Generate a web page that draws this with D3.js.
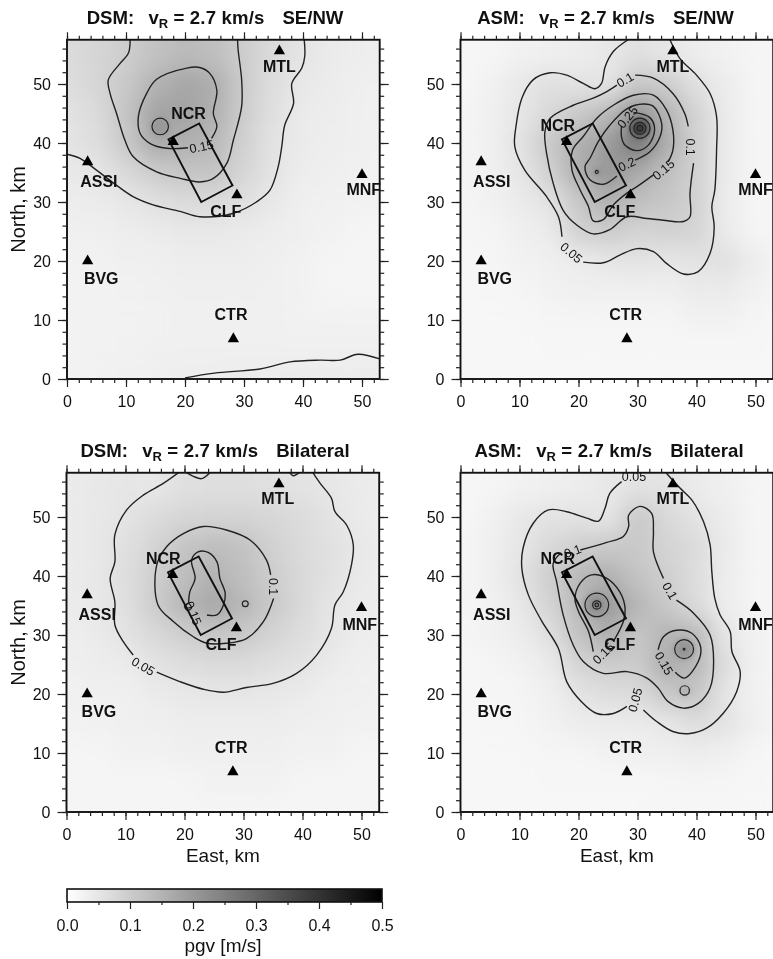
<!DOCTYPE html>
<html>
<head>
<meta charset="utf-8">
<script src="https://cdn.jsdelivr.net/npm/d3@7/dist/d3.min.js"></script>
<style>
html,body{margin:0;padding:0;background:#fff;overflow:hidden}
svg{display:block;filter:blur(0.6px)}
text{font-family:"Liberation Sans",Arial,sans-serif;fill:#111}
</style>
</head>
<body>
<svg id="chart" width="773" height="959"></svg>
<script>
// ---------- data (km east, km north, pgv in m/s) ----------
const gridEast = [0,5,10,15,20,25,30,35,40,45,50,55];
const gridNorth = [55,50,45,40,35,30,25,20,15,10,5,0];

const dsmSeNwGrid = [
 [.07,.08,.098,.12,.135,.125,.098,.07,.051,.04,.035,.03],
 [.065,.08,.105,.15,.175,.16,.1,.065,.045,.037,.03,.03],
 [.055,.07,.115,.18,.18,.155,.098,.06,.04,.035,.03,.03],
 [.052,.065,.105,.17,.155,.14,.09,.055,.04,.033,.03,.028],
 [.043,.05,.075,.10,.115,.115,.08,.052,.035,.03,.028,.025],
 [.035,.04,.048,.06,.07,.07,.06,.045,.03,.028,.025,.025],
 [.03,.03,.035,.04,.045,.045,.04,.035,.03,.025,.02,.02],
 [.025,.025,.03,.03,.035,.035,.035,.03,.025,.02,.02,.02],
 [.025,.025,.025,.03,.03,.03,.03,.03,.025,.02,.02,.02],
 [.025,.025,.025,.025,.03,.03,.03,.03,.025,.025,.025,.025],
 [.025,.025,.025,.03,.03,.03,.03,.03,.03,.03,.03,.03],
 [.025,.025,.03,.03,.035,.035,.04,.04,.04,.04,.04,.04]];

const asmSeNwGrid = [
 [.015,.02,.025,.03,.035,.045,.06,.05,.035,.025,.02,.02],
 [.015,.025,.045,.06,.055,.052,.11,.10,.06,.035,.02,.02],
 [.02,.03,.05,.075,.105,.14,.22,.15,.085,.04,.02,.02],
 [.02,.03,.055,.105,.155,.19,.28,.16,.09,.04,.02,.02],
 [.02,.03,.05,.09,.16,.21,.165,.125,.09,.04,.02,.02],
 [.02,.025,.04,.055,.11,.155,.125,.11,.09,.035,.02,.02],
 [.02,.02,.03,.04,.09,.10,.085,.09,.085,.04,.02,.02],
 [.015,.02,.025,.03,.04,.05,.055,.05,.055,.06,.035,.02],
 [.015,.015,.02,.025,.03,.03,.03,.03,.04,.04,.025,.02],
 [.015,.015,.015,.02,.02,.02,.02,.02,.025,.025,.02,.015],
 [.015,.015,.015,.015,.015,.015,.015,.015,.015,.015,.015,.015],
 [.015,.015,.015,.015,.015,.015,.015,.015,.015,.015,.015,.015]];

const dsmBilatGrid = [
 [.04,.045,.05,.048,.06,.062,.062,.058,.055,.048,.04,.035],
 [.04,.045,.052,.068,.08,.085,.085,.078,.068,.052,.04,.035],
 [.04,.045,.06,.085,.115,.13,.12,.09,.07,.058,.045,.035],
 [.04,.045,.065,.095,.13,.15,.125,.098,.075,.057,.042,.035],
 [.038,.045,.06,.1,.145,.175,.14,.105,.075,.05,.04,.035],
 [.033,.04,.055,.075,.095,.11,.105,.085,.065,.05,.035,.03],
 [.03,.035,.04,.055,.065,.07,.07,.06,.055,.04,.03,.03],
 [.025,.03,.03,.04,.045,.05,.05,.045,.04,.03,.03,.025],
 [.025,.025,.03,.03,.035,.035,.035,.035,.03,.03,.025,.025],
 [.02,.02,.025,.025,.03,.03,.03,.03,.025,.025,.02,.02],
 [.02,.02,.02,.02,.02,.025,.025,.025,.02,.02,.02,.02],
 [.02,.02,.02,.02,.02,.02,.02,.02,.02,.02,.02,.02]];

const asmBilatGrid = [
 [.015,.02,.025,.03,.035,.045,.055,.055,.04,.03,.02,.02],
 [.015,.025,.045,.055,.055,.05,.11,.075,.055,.035,.02,.02],
 [.02,.03,.05,.075,.095,.105,.105,.085,.07,.04,.02,.02],
 [.02,.03,.055,.095,.14,.155,.115,.095,.065,.035,.02,.02],
 [.02,.025,.045,.085,.14,.2,.145,.105,.07,.035,.02,.02],
 [.02,.025,.035,.06,.12,.16,.11,.15,.14,.05,.025,.02],
 [.015,.02,.025,.04,.085,.1,.1,.165,.14,.065,.025,.02],
 [.015,.02,.02,.03,.055,.065,.07,.11,.115,.05,.025,.02],
 [.015,.015,.02,.025,.035,.04,.04,.05,.065,.055,.03,.02],
 [.015,.015,.015,.02,.02,.025,.03,.03,.035,.03,.02,.015],
 [.015,.015,.015,.015,.015,.015,.015,.02,.02,.02,.015,.015],
 [.015,.015,.015,.015,.015,.015,.015,.015,.015,.015,.015,.015]];

const dsmSeNwContours = [
 [[40.2,57.6],[40.3,54.7],[39.8,52.7],[38.1,50.1],[38.4,46.7],[36.9,43],[36.4,39.4],[35.8,36],[34.4,32],[32.1,30],[28.2,28.1],[22.5,27.5],[19.2,28.4],[14.6,29.5],[11.2,30.9],[7.9,33.2],[5,35.4],[2.2,37.4],[0,38.1]],
 [[20,0.2],[25,1],[32.7,1.7],[37.8,2.9],[42.9,3.2],[46.3,3.2],[49.3,4.2],[53,3.4]],
 [[10.7,57.6],[10.4,55.2],[9,53.5],[7,50.7],[7.3,48.4],[8.4,45],[9.8,40.5],[11.2,37.7],[15.2,35.1],[19.2,34],[22.5,33.4],[24.8,34],[27.1,36.6],[28.2,40.5],[29.6,46.2],[29.6,50.7],[29,55.8],[28.9,57.6]],
 [[24.5,40.8],[25.4,42.8],[24.8,45],[25.4,48.9],[24.2,51.8],[22.5,52.8],[20.3,52.7],[15.2,50.8],[13.5,48.4],[12.1,44.5],[12.4,41.6],[14.1,39.9],[16.9,39.1],[20.5,39.2]]
];
const asmSeNwContours = [
 [[28.4,57.5],[25.9,55.5],[24.5,52.9],[23.9,50.1],[22.8,49.2],[20.8,50.1],[18,51.5],[15.2,51.9],[12.3,50.7],[10.4,47.6],[9.4,42.8],[9.2,39.4],[10.9,35.4],[14.6,30.9],[16.6,27.5],[17.2,24.1]],
 [[20.8,19.8],[24.2,19.7],[27,21],[29.9,22.1],[32.7,21.6],[34.9,19.6],[37.8,17.8],[40.3,18.2],[42.3,21.3],[43,25.8],[42.6,29.2],[43.1,32],[43.4,38.8],[43.4,44.5],[42.3,48.4],[40,51.5],[37.2,54.3],[35.5,57.5]],
 [[29.6,51.5],[32.7,51],[36,48.4],[38,45],[38.6,42.8]],
 [[39.5,36.6],[38.9,31.5],[38.9,27.5],[37.8,26.7],[34.4,26.9],[31.6,27.2],[28.2,27.5],[25.3,25.3],[22.5,24.6],[19.7,26.1],[17.4,28.6],[15.7,33.2],[14.6,38.2],[14.3,41.9],[15.2,44.2],[19.1,46.4],[22.5,47.6],[24.8,48.7],[26.5,49.8]],
 [[32.7,34.6],[29.9,32.6],[28.2,31.5],[25.9,29.5],[24.2,27],[22.5,26.8],[21.7,29.2],[20.3,32],[18.9,35.4],[19,38.8],[20.8,41.1],[23.1,44.2],[25.9,46.4],[29.3,48.1],[32.7,48.1],[34.9,45.6],[36,42.2],[36,38.8],[35.2,36.8]],
 [[29.6,37.1],[32.1,38.5],[33.8,41],[34.1,43.3],[32.7,46.2],[31,46.6],[28.2,45.8],[25.3,43],[23.4,40.3],[22,37.5],[21.1,36],[21.9,33.8],[24.2,33],[26.5,34.4]],
 [[29.3,45.2],[32.1,44.3],[32.9,42.2],[31.8,39.6],[29.9,38.7],[27.9,39.6],[27.3,41],[27.3,42.9]]
];
const dsmBilatContours = [
 [[19.1,57.6],[16.4,55.7],[13,53.7],[10.2,51.2],[8.2,47],[8.2,42.4],[7.4,39.6],[8.2,35.6],[8.2,31.7],[9.6,28.9],[11.3,26.6]],
 [[15.3,23.7],[19.2,22.1],[23.2,20.8],[26.6,20.3],[30.5,21.1],[35,21.8],[39,23.5],[42.4,26.6],[44.9,31.1],[45.5,35.1],[46.9,37.3],[48.3,41.9],[48.6,45.3],[47.5,48.6],[45.5,50.9],[44.9,53.2],[43,55.7],[41.7,57.6]],
 [[20.2,57.6],[21.5,56.9],[22.9,56.5],[24.3,57.5]],
 [[37.8,57.6],[38.4,57],[39.6,57.6]],
 [[34.6,40.2],[33.9,42.7],[31.1,46.1],[27.1,47.8],[23.2,48.4],[19.8,47.2],[17,45],[15.3,41.9],[15.5,35.1],[18.1,32.3],[21.5,29.7],[23.8,28.6],[27.1,28.6],[30.5,29.4],[33.4,32.3],[35.1,36.2]],
 [[23.8,33.4],[25.5,33.4],[26.6,35.1],[26.9,37.1],[26,39.6],[25.5,42.4],[24,44],[22.3,44.1],[21.2,42.7],[21.8,39.6],[20.9,37.3],[20.7,35.4]],
 [[20.7,35.4],[21.2,34.6],[20.5,34.2],[20,34.9],[20.7,35.4]]
];
const asmBilatContours = [
 [[27.3,56],[25.3,54],[24.5,51.5],[23.4,49.3],[21.4,49.8],[18,50.9],[14.9,51.2],[12.3,48.9],[10.6,44.7],[10.4,41.3],[11.5,36.8],[13.8,32.3],[16.6,27.7],[18,22.1],[20.5,18.7],[23.1,16.7],[25.9,16.7],[28.2,17.9]],
 [[31,17.3],[33.3,15.3],[36.1,13.6],[38.9,13.3],[41.7,14.2],[44.5,16.7],[46.8,20.4],[47.4,23.8],[46,27.2],[45.7,30.6],[44,33.4],[43.1,36.2],[42.6,40.7],[42.3,45.3],[41.2,49.2],[39.2,52.9],[37.2,54.9],[34.9,57.4]],
 [[20.3,44.4],[24.8,45.7],[27.6,46.7],[28.5,48.4],[28.5,50.3],[30.4,51.8],[32.4,50.6],[32.7,47.5],[32.7,44.1],[34.4,39.6]],
 [[36.6,35.9],[39.5,33.7],[42.3,30],[42.9,25.5],[42.3,21],[40.3,18.4],[37.8,17.6],[35.2,18.7],[33.5,21],[31.6,22.7],[28.2,23.8],[24.2,23.5],[20.8,25.5],[19.1,28.3],[17.4,33.4],[16.3,39],[15.7,42.1],[16.9,43.8]],
 [[22.5,27.2],[21.7,30.6],[20,34],[19.4,36.2],[20.3,38.8],[22.2,40.2],[24.8,39.6],[27,37.3],[27.9,34.5],[27.6,32.3],[25.9,28.9]],
 [[33.5,27.5],[34.4,29.7],[36.6,30.8],[39.2,30.3],[40.7,28],[40.3,25.5],[38,22.7],[36.4,23.7]]
];

// closed rings: centre east, centre north, radius, level
const dsmSeNwRings = [[15.8,42.8,1.4,.2]];
const asmSeNwRings = [[30.4,42.5,1.7,.3],[30.4,42.5,1.0,.35],[30.4,42.5,.5,.4],[23.1,35.1,.25,.25]];
const dsmBilatRings = [[30.3,35.3,.5,.15]];
const asmBilatRings = [[23.1,35.1,2,.2],[23.1,35.1,.7,.25],[23.1,35.1,.3,.3],[37.9,27.6,1.6,.2],[37.9,27.6,.15,.25],[38,20.6,.8,.15]];

// contour labels: text, east, north, rotation
const dsmSeNwLabels = [["0.15",22.8,39.4,-12]];
const asmSeNwLabels = [["0.1",27.9,50.7,-30],["0.1",39,39.3,90],["0.15",34.4,35.5,-40],["0.2",28.2,36.4,-25],["0.25",28.3,44.4,-50],["0.05",18.8,21.4,40]];
const dsmBilatLabels = [["0.05",13,24.7,30],["0.1",35,38.2,90],["0.15",21.5,33.7,68]];
const asmBilatLabels = [["0.05",29.4,56.8,0],["0.1",35.5,37.5,60],["0.15",34.5,25.2,60],["0.15",24.2,26.9,-45],["0.05",29.6,19,-75],["0.1",19,44.2,-20]];

const faultEast = [17.2,22.4,28.05,22.75];
const faultNorth = [40.6,43.3,32.8,30];

const stationNames = ["MTL","NCR","ASSI","CLF","MNF","BVG","CTR"];
const stationEast = [36,18,3.5,28.8,50,3.5,28.2];
const stationNorth = [55.6,40.2,36.8,31.2,34.6,20,6.8];
const dsmSeNwStationText = [[36,53],[20.6,45.1],[5.4,33.6],[26.9,28.5],[50.3,32.1],[5.8,17],[27.8,11]];
const asmSeNwStationText = [[36,53],[16.5,43],[5.3,33.6],[27,28.5],[50,32.1],[5.8,17],[28,11]];
const dsmBilatStationText = [[35.8,53.2],[16.4,43],[5.2,33.6],[26.2,28.5],[49.7,31.9],[5.5,17],[27.9,11]];
const asmBilatStationText = [[36,53.2],[16.5,43],[5.3,33.6],[27,28.5],[50,31.9],[5.8,17],[28,11]];

const xTicks = [0,10,20,30,40,50];
const yTicks = [0,10,20,30,40,50];
const barTicks = [0,.1,.2,.3,.4,.5];
const barTickLabels = ["0.0","0.1","0.2","0.3","0.4","0.5"];

// ---------- layout ----------
const panels = [
 {name:"DSM:",mode:"SE/NW",left:67,base:379,grid:dsmSeNwGrid,contours:dsmSeNwContours,rings:dsmSeNwRings,labels:dsmSeNwLabels,text:dsmSeNwStationText,yTitle:true,xTitle:false,titleAt:215},
 {name:"ASM:",mode:"SE/NW",left:460.5,base:379,grid:asmSeNwGrid,contours:asmSeNwContours,rings:asmSeNwRings,labels:asmSeNwLabels,text:asmSeNwStationText,yTitle:false,xTitle:false,titleAt:605.5},
 {name:"DSM:",mode:"Bilateral",left:66.5,base:812,grid:dsmBilatGrid,contours:dsmBilatContours,rings:dsmBilatRings,labels:dsmBilatLabels,text:dsmBilatStationText,yTitle:true,xTitle:true,titleAt:215},
 {name:"ASM:",mode:"Bilateral",left:460.5,base:812,grid:asmBilatGrid,contours:asmBilatContours,rings:asmBilatRings,labels:asmBilatLabels,text:asmBilatStationText,yTitle:false,xTitle:true,titleAt:609}
];
const kmPx = 5.9, eastMax = 53, northMax = 57.5;
const color = d3.scaleLinear().domain([0,.5]).range(["#ffffff","#000000"]);
const svg = d3.select("#chart");
const defs = svg.append("defs");
[["softWide",11],["softNarrow",2.6]].forEach(([id,s])=>{
  defs.append("filter").attr("id",id).attr("filterUnits","userSpaceOnUse")
    .attr("x",-100).attr("y",-100).attr("width",1100).attr("height",1200)
    .append("feGaussianBlur").attr("stdDeviation",s);
});
const line = d3.line().curve(d3.curveCatmullRom.alpha(.5));
const tickFont = 16;

panels.forEach((p,pi)=>{
  const x = d3.scaleLinear().domain([0,eastMax]).range([p.left,p.left+eastMax*kmPx]);
  const y = d3.scaleLinear().domain([0,northMax]).range([p.base,p.base-northMax*kmPx]);
  const g = svg.append("g");
  const clipId = "clip"+pi;
  defs.append("clipPath").attr("id",clipId).append("rect")
    .attr("x",x(0)).attr("y",y(northMax)).attr("width",x(eastMax)-x(0)).attr("height",y(0)-y(northMax));
  const inner = g.append("g").attr("clip-path",`url(#${clipId})`);

  // heat map cells, smoothed
  const cells = [];
  p.grid.forEach((row,r)=>row.forEach((v,c)=>cells.push({c,r,v})));
  inner.append("g").attr("filter","url(#softWide)").selectAll("rect").data(cells).join("rect")
    .attr("x",d=>x(d.c===0?-15:gridEast[d.c]-2.5))
    .attr("width",d=>x(d.c===0?2.5:d.c===gridEast.length-1?75:gridEast[d.c]+2.5)-x(d.c===0?-15:gridEast[d.c]-2.5)+.5)
    .attr("y",d=>y(d.r===0?75:gridNorth[d.r]+2.5))
    .attr("height",d=>y(d.r===gridNorth.length-1?-15:gridNorth[d.r]-2.5)-y(d.r===0?75:gridNorth[d.r]+2.5)+.5)
    .attr("fill",d=>color(d.v));

  // peaks
  const rx = r=>x(r)-x(0), ry = r=>y(0)-y(r);
  inner.append("g").attr("filter","url(#softNarrow)").selectAll("ellipse").data(p.rings).join("ellipse")
    .attr("cx",d=>x(d[0])).attr("cy",d=>y(d[1])).attr("rx",d=>rx(d[2]+.2)).attr("ry",d=>ry(d[2]+.2))
    .attr("fill",d=>color(d[3]));

  // contour lines
  inner.append("g").selectAll("path").data(p.contours).join("path")
    .attr("d",d=>line(d.map(q=>[x(q[0]),y(q[1])])))
    .attr("fill","none").attr("stroke","#222").attr("stroke-width",1.4);
  inner.append("g").selectAll("ellipse").data(p.rings).join("ellipse")
    .attr("cx",d=>x(d[0])).attr("cy",d=>y(d[1])).attr("rx",d=>rx(d[2])).attr("ry",d=>ry(d[2]))
    .attr("fill","none").attr("stroke","#222").attr("stroke-width",1.2);

  // contour labels
  inner.append("g").selectAll("text").data(p.labels).join("text")
    .attr("transform",d=>`translate(${x(d[1])},${y(d[2])}) rotate(${d[3]})`)
    .attr("text-anchor","middle").attr("dy","0.35em").attr("font-size",12.5).attr("fill","#222")
    .text(d=>d[0]);

  // fault rectangle
  g.append("path").datum(d3.zip(faultEast,faultNorth))
    .attr("d",d=>d3.line()(d.map(q=>[x(q[0]),y(q[1])]))+"Z")
    .attr("fill","none").attr("stroke","#111").attr("stroke-width",1.9);

  // stations
  g.append("g").selectAll("path").data(stationNames).join("path")
    .attr("d",d3.symbol(d3.symbolTriangle,55))
    .attr("transform",(d,i)=>`translate(${x(stationEast[i])},${y(stationNorth[i])})`)
    .attr("fill","#000");
  g.append("g").selectAll("text").data(stationNames).join("text")
    .attr("x",(d,i)=>x(p.text[i][0])).attr("y",(d,i)=>y(p.text[i][1]))
    .attr("dy","0.36em").attr("text-anchor","middle")
    .attr("font-size",16).attr("font-weight","bold").text(d=>d);

  // frame
  g.append("rect").attr("x",x(0)).attr("y",y(northMax)).attr("width",x(eastMax)-x(0)).attr("height",y(0)-y(northMax))
    .attr("fill","none").attr("stroke","#111").attr("stroke-width",1.9);

  // axes
  const minorX = d3.range(0,eastMax+.1,2), minorY = d3.range(0,northMax,2);
  const style = a=>{a.select(".domain").remove();a.selectAll("line").attr("stroke","#222").attr("stroke-width",1.2);
    a.selectAll("text").attr("font-size",tickFont).attr("font-family",'"Liberation Sans",Arial,sans-serif').attr("fill","#222");};
  const put = (axis,tx,ty)=>g.append("g").attr("transform",`translate(${tx},${ty})`).call(axis).call(style);
  put(d3.axisBottom(x).tickValues(minorX).tickSize(4).tickFormat(""),0,y(0));
  put(d3.axisTop(x).tickValues(minorX).tickSize(4).tickFormat(""),0,y(northMax));
  put(d3.axisLeft(y).tickValues(minorY).tickSize(4.5).tickFormat(""),x(0),0);
  put(d3.axisRight(y).tickValues(minorY).tickSize(4.5).tickFormat(""),x(eastMax),0);
  put(d3.axisBottom(x).tickValues(xTicks).tickSize(8).tickPadding(9),0,y(0));
  put(d3.axisTop(x).tickValues(xTicks).tickSize(7.5).tickFormat(""),0,y(northMax));
  put(d3.axisLeft(y).tickValues(yTicks).tickSize(9).tickPadding(7),x(0),0);
  put(d3.axisRight(y).tickValues(yTicks).tickSize(9).tickFormat(""),x(eastMax),0);

  // title
  const t = g.append("text").attr("x",p.titleAt).attr("y",y(northMax)-16)
    .attr("text-anchor","middle").attr("font-size",18.6).attr("font-weight","bold");
  t.append("tspan").text(p.name+"\u00a0\u00a0");
  t.append("tspan").attr("dx",4).text("v");
  t.append("tspan").attr("font-size",13).attr("dy",4.5).text("R");
  t.append("tspan").attr("dy",-4.5).attr("letter-spacing",.15).text(" = 2.7 km/s\u00a0\u00a0\u00a0");
  t.append("tspan").attr("dx",2).text(p.mode);

  if(p.yTitle) g.append("text").attr("transform",`translate(${x(0)-42},${(y(0)+y(northMax))/2}) rotate(-90)`)
    .attr("text-anchor","middle").attr("font-size",20).attr("fill","#222").text("North, km");
  if(p.xTitle) g.append("text").attr("x",(x(0)+x(eastMax))/2).attr("y",y(0)+50)
    .attr("text-anchor","middle").attr("font-size",19).attr("fill","#222").text("East, km");
});

// colour bar
const bar = d3.scaleLinear().domain([0,.5]).range([67,382]);
const barTop = 889, barBottom = 902;
const gradient = defs.append("linearGradient").attr("id","barFill");
d3.range(0,.5001,.05).forEach(v=>gradient.append("stop").attr("offset",v/.5).attr("stop-color",color(v)));
svg.append("rect").attr("x",bar(0)).attr("y",barTop).attr("width",bar(.5)-bar(0)).attr("height",barBottom-barTop)
  .attr("fill","url(#barFill)").attr("stroke","#111").attr("stroke-width",1.6);
const barAxisMinor = svg.append("g").attr("transform",`translate(0,${barBottom})`)
  .call(d3.axisBottom(bar).tickValues(d3.range(.05,.5,.1)).tickSize(3).tickFormat(""));
const barAxis = svg.append("g").attr("transform",`translate(0,${barBottom})`)
  .call(d3.axisBottom(bar).tickValues(barTicks).tickSize(7).tickPadding(11).tickFormat((d,i)=>barTickLabels[i]));
[barAxisMinor,barAxis].forEach(a=>{a.select(".domain").remove();a.selectAll("line").attr("stroke","#222").attr("stroke-width",1.2);
  a.selectAll("text").attr("font-size",tickFont).attr("font-family",'"Liberation Sans",Arial,sans-serif').attr("fill","#222");});
svg.append("text").attr("x",223).attr("y",952).attr("text-anchor","middle").attr("font-size",19).attr("fill","#222").text("pgv [m/s]");
</script>
</body>
</html>
